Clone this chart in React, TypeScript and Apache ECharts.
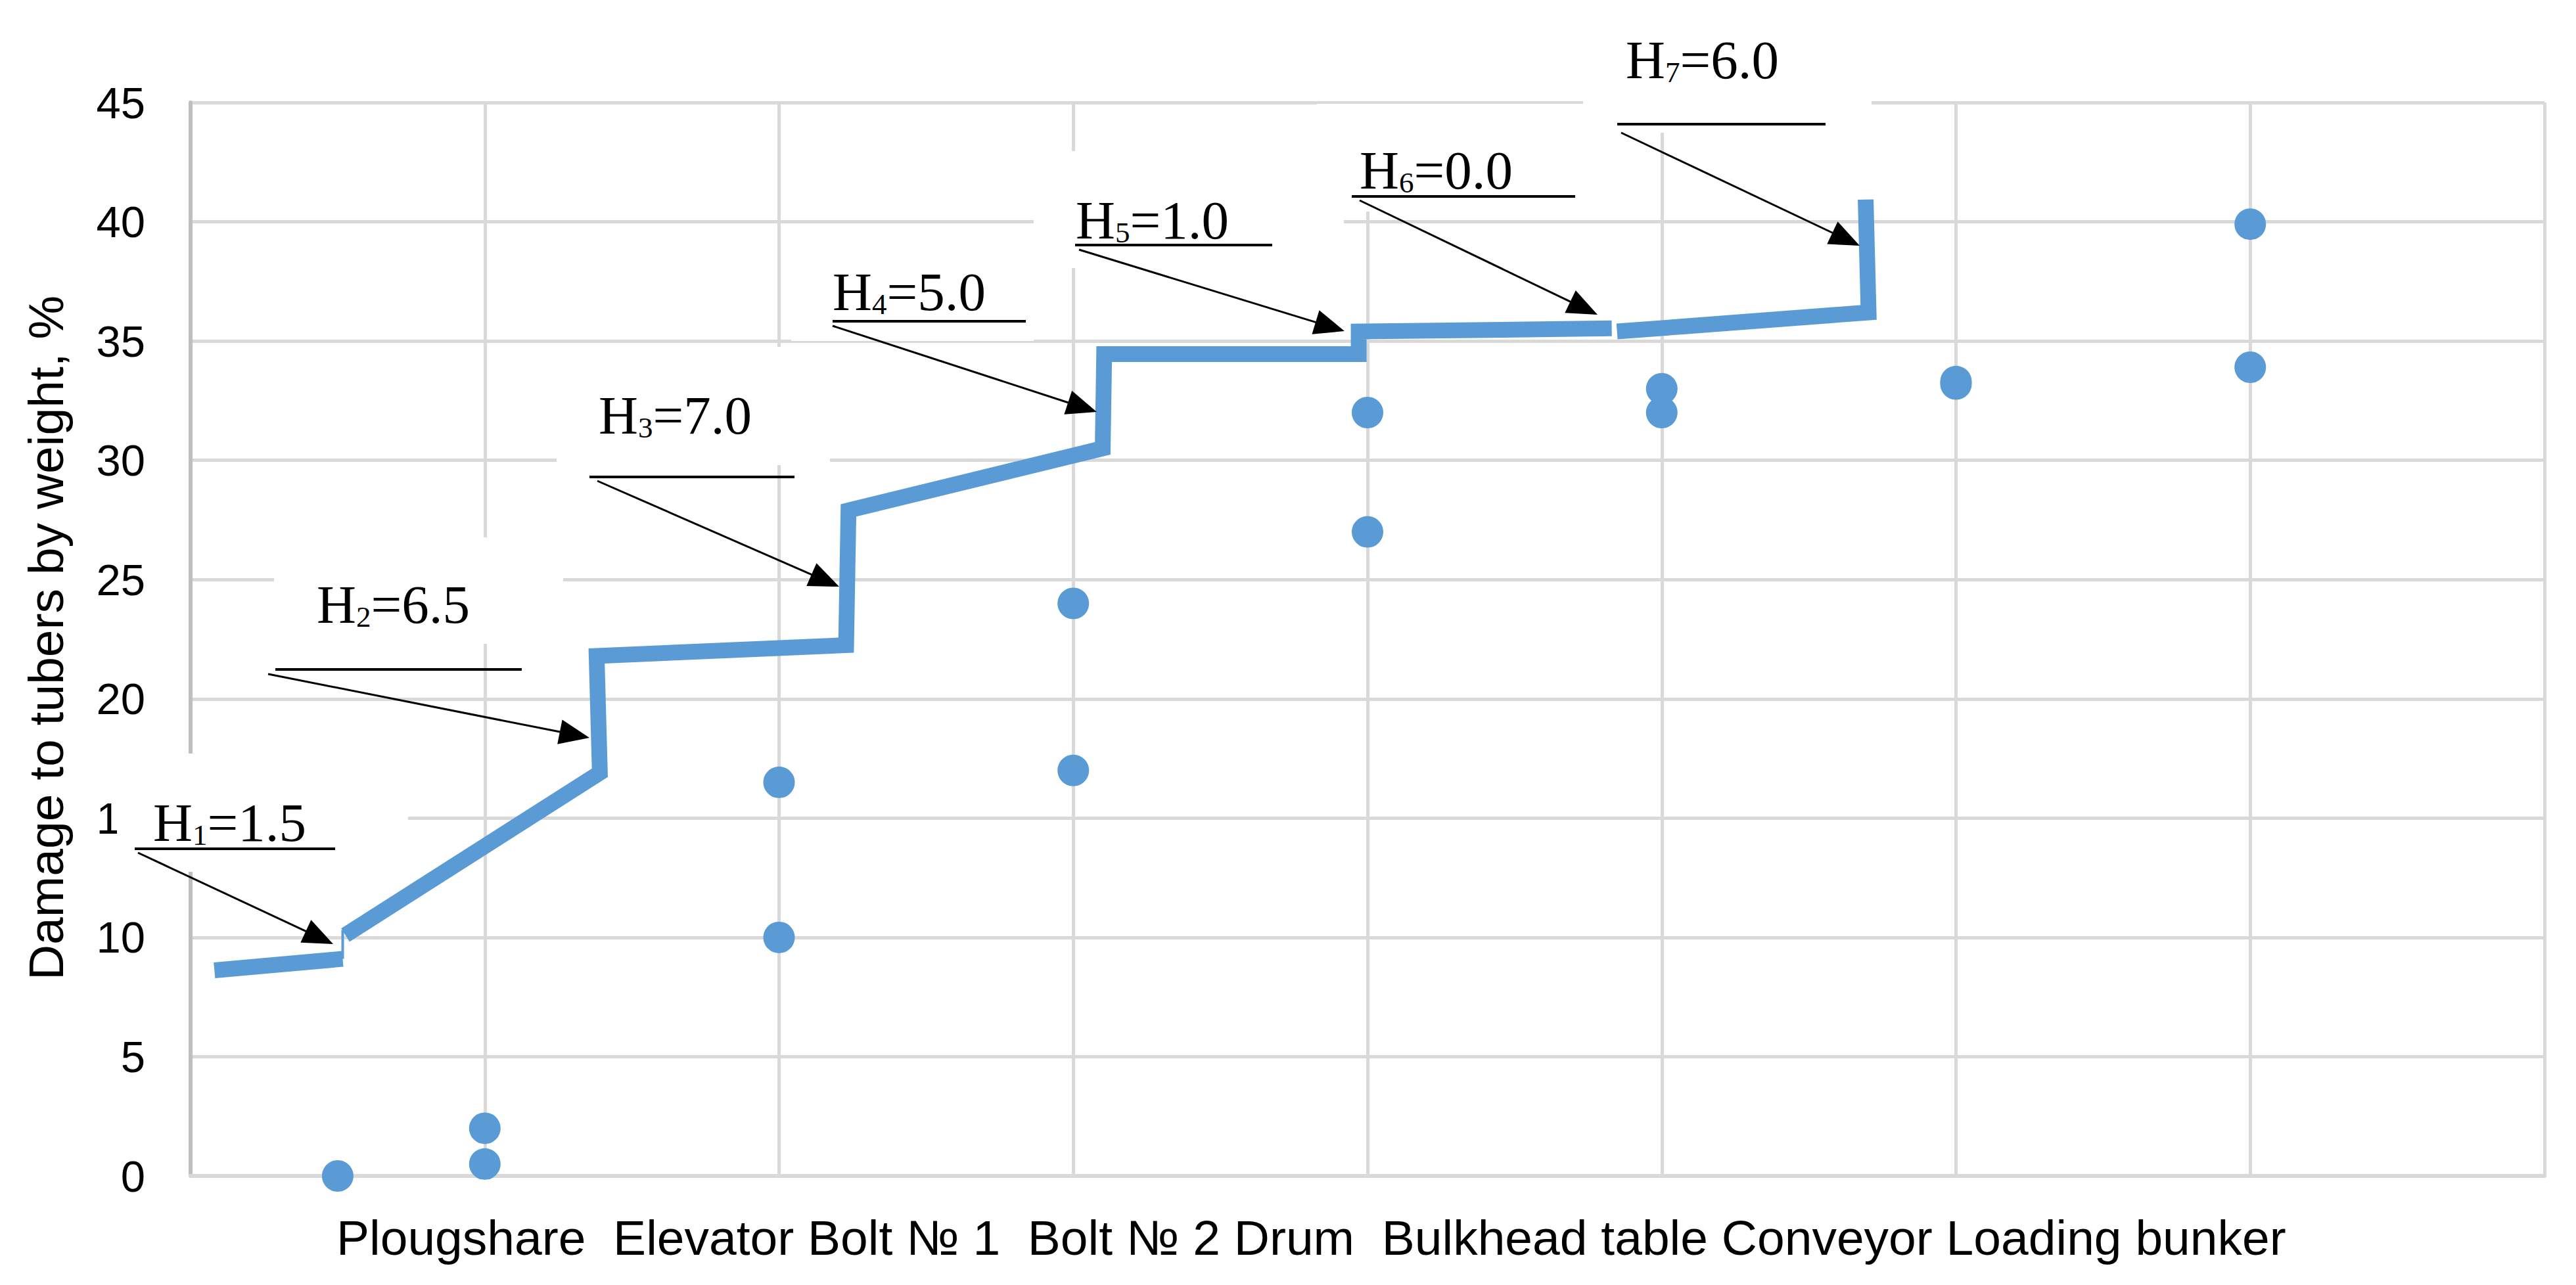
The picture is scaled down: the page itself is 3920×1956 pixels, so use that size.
import React, { useEffect, useRef } from "react";
import * as echarts from "echarts";

// ---- data ----
const categories = ["Plougshare", "Elevator", "Bolt № 1", "Bolt № 2", "Drum", "Bulkhead table", "Conveyor", "Loading bunker"];
const categorySeparators = ["  ", " ", "  ", " ", "  ", " ", " "];
const yAxisTitle = "Damage to tubers by weight, %";
const yMin = 0;
const yMax = 45;
const yStep = 5;
const xMin = 0;
const xMax = 8;

const pointX = [0.5, 1, 1, 2, 2, 3, 3, 4, 4, 5, 5, 6, 6, 7, 7];
const pointY = [0, 2.0, 0.5, 16.5, 10.0, 24.0, 17.0, 32.0, 27.0, 33.0, 32.0, 33.3, 33.2, 39.9, 33.9];

const lineA = [[0.081, 8.62], [0.517, 9.1]];
const lineLink = [[0.517, 9.1], [0.517, 10.3]];
const lineB = [
  [0.526, 10.1], [1.391, 16.9], [1.38, 21.8], [2.228, 22.25], [2.236, 27.9],
  [3.1, 30.5], [3.105, 34.45], [3.97, 34.45], [3.97, 35.4], [4.83, 35.53],
];
const lineC = [[4.848, 35.4], [5.703, 36.2], [5.693, 40.93]];

const hSub = ["1", "2", "3", "4", "5", "6", "7"];
const hVal = ["1.5", "6.5", "7.0", "5.0", "1.0", "0.0", "6.0"];

// ---- annotation layout (pixels) ----
const annLayout = [
  { box: [178, 1147, 621, 1327], text: [233, 1280], under: [205, 510, 1292], arrow: [210, 1298, 507, 1437] },
  { box: [417, 818, 857, 980], text: [482, 948], under: [419, 794, 1019], arrow: [408, 1026, 897, 1123] },
  { box: [847, 528, 1263, 708], text: [911, 660], under: [897, 1209, 726], arrow: [909, 732, 1277, 893] },
  { box: [1204, 340, 1573, 519], text: [1267, 472], under: [1267, 1561, 489], arrow: [1267, 496, 1669, 627] },
  { box: [1573, 230, 2045, 408], text: [1637, 363], under: [1636, 1936, 373], arrow: [1642, 380, 2046, 504] },
  { box: [2004, 158, 2409, 322], text: [2069, 287], under: [2057, 2397, 299], arrow: [2069, 305, 2431, 479] },
  { box: [2409, 40, 2848, 202], text: [2474, 119], under: [2461, 2778, 189], arrow: [2467, 202, 2830, 374] },
];

const BLUE = "#5b9bd5";
const GRID = "#d9d9d9";

function buildGraphics() {
  const els: any[] = [];
  annLayout.forEach((a, i) => {
    const [bx1, by1, bx2, by2] = a.box;
    els.push({
      type: "rect",
      z: 50,
      shape: { x: bx1, y: by1, width: bx2 - bx1, height: by2 - by1 },
      style: { fill: "#ffffff" },
    });
  });
  annLayout.forEach((a, i) => {
    els.push({
      type: "text",
      z: 60,
      x: a.text[0],
      y: a.text[1] + 13.5,
      style: {
        text: `{m|H}{s|${hSub[i]}}{m|=${hVal[i]}}`,
        align: "left",
        verticalAlign: "bottom",
        rich: {
          m: { fontSize: 83, fontFamily: "Liberation Serif", lineHeight: 83, fill: "#000", verticalAlign: "bottom" },
          s: { fontSize: 45, fontFamily: "Liberation Serif", lineHeight: 57, fill: "#000", verticalAlign: "bottom" },
        },
      },
    });
    const [ux1, ux2, uy] = a.under;
    els.push({
      type: "line",
      z: 60,
      shape: { x1: ux1, y1: uy, x2: ux2, y2: uy },
      style: { stroke: "#000", lineWidth: 4 },
    });
    const [x1, y1, x2, y2] = a.arrow;
    const dx = x2 - x1;
    const dy = y2 - y1;
    const len = Math.sqrt(dx * dx + dy * dy);
    const ux = dx / len;
    const uy2 = dy / len;
    const L = 46;
    const W = 19;
    const bx = x2 - ux * L;
    const by = y2 - uy2 * L;
    const nx = -uy2;
    const ny = ux;
    els.push({
      type: "line",
      z: 60,
      shape: { x1, y1, x2: bx + ux * 4, y2: by + uy2 * 4 },
      style: { stroke: "#000", lineWidth: 3 },
    });
    els.push({
      type: "polygon",
      z: 60,
      shape: { points: [[x2, y2], [bx + nx * W, by + ny * W], [bx - nx * W, by - ny * W]] },
      style: { fill: "#000" },
    });
  });

  let label = "";
  categories.forEach((c, i) => {
    label += c + (i < categorySeparators.length ? categorySeparators[i] : "");
  });
  els.push({
    type: "text",
    z: 60,
    x: 512,
    y: 1884,
    style: {
      text: label,
      align: "left",
      verticalAlign: "middle",
      fontSize: 75,
      fontFamily: "Liberation Sans",
      fill: "#000",
    },
  });
  els.push({
    type: "text",
    z: 60,
    x: 70,
    y: 971,
    rotation: Math.PI / 2,
    style: {
      text: yAxisTitle,
      align: "center",
      verticalAlign: "middle",
      fontSize: 75,
      fontFamily: "Liberation Sans",
      fill: "#000",
    },
  });
  return els;
}

export default function App() {
  const ref = useRef<HTMLDivElement>(null);
  useEffect(() => {
    if (!ref.current) return;
    const chart = echarts.init(ref.current, null, { renderer: "svg" });
    const lineStyleBase = { color: BLUE, width: 24, cap: "butt", join: "miter" };
    chart.setOption({
      animation: false,
      backgroundColor: "#ffffff",
      grid: { left: 290, right: 48, top: 156, bottom: 166, containLabel: false },
      xAxis: {
        type: "value",
        min: xMin,
        max: xMax,
        interval: 1,
        axisLine: { show: true, onZero: false, lineStyle: { color: GRID, width: 6 } },
        axisTick: { show: false },
        axisLabel: { show: false },
        splitLine: { show: true, lineStyle: { color: GRID, width: 5 } },
      },
      yAxis: {
        type: "value",
        min: yMin,
        max: yMax,
        interval: yStep,
        axisLine: { show: true, lineStyle: { color: "#bfbfbf", width: 6 } },
        axisTick: { show: false },
        axisLabel: { show: true, fontSize: 67, fontFamily: "Liberation Sans", color: "#000", margin: 69 },
        splitLine: { show: true, lineStyle: { color: GRID, width: 5 } },
      },
      series: [
        {
          type: "line",
          data: lineA,
          symbol: "none",
          lineStyle: lineStyleBase,
          z: 3,
        },
        {
          type: "line",
          data: lineLink,
          symbol: "none",
          lineStyle: { color: BLUE, width: 4, cap: "butt" },
          z: 3,
        },
        {
          type: "line",
          data: lineB,
          symbol: "none",
          lineStyle: lineStyleBase,
          z: 3,
        },
        {
          type: "line",
          data: lineC,
          symbol: "none",
          lineStyle: lineStyleBase,
          z: 3,
        },
        {
          type: "scatter",
          data: pointX.map((x, i) => [x, pointY[i]]),
          symbol: "circle",
          symbolSize: 48,
          itemStyle: { color: BLUE, opacity: 1 },
          z: 4,
        },
      ],
      graphic: { elements: buildGraphics() },
    });
    return () => chart.dispose();
  }, []);
  return (
    <div
      ref={ref}
      style={{ position: "fixed", left: 0, top: 0, width: "3920px", height: "1956px", background: "#fff" }}
    />
  );
}
